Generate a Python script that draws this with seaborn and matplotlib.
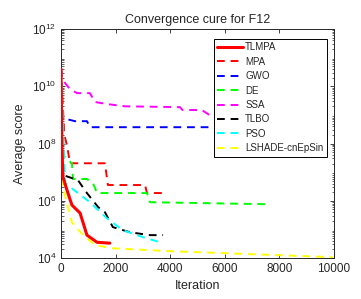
import seaborn as sns
import matplotlib.pyplot as plt
import pandas as pd
import numpy as np

# Convergence curves (iteration, log10 of average score)
tlmpa_it = [0, 30, 70, 220, 400, 700, 950, 1320, 1790]
tlmpa_lg = [10.6, 8.0, 6.83, 6.37, 5.85, 5.57, 4.8, 4.55, 4.52]

mpa_it = [0, 120, 220, 330, 1610, 1720, 3080, 3150, 3700]
mpa_lg = [10.6, 8.3, 7.94, 7.31, 7.31, 6.55, 6.55, 6.27, 6.27]

gwo_it = [0, 40, 220, 510, 950, 1060, 5600]
gwo_lg = [10.6, 8.95, 8.85, 8.78, 8.78, 8.57, 8.57]

de_it = [0, 60, 400, 440, 950, 1170, 1320, 3150, 3260, 7540]
de_lg = [10.6, 7.6, 7.31, 6.76, 6.76, 6.62, 6.27, 6.27, 5.95, 5.88]

ssa_it = [0, 40, 150, 330, 590, 1060, 1245, 1680, 2340, 4360, 4450, 5160, 5530, 5600]
ssa_lg = [10.6, 10.3, 10.11, 9.9, 9.76, 9.76, 9.45, 9.38, 9.3, 9.27, 9.17, 9.17, 8.94, 8.94]

tlbo_it = [0, 70, 620, 950, 1360, 1610, 1900, 2530, 3260, 3740]
tlbo_lg = [10.6, 6.9, 6.72, 6.27, 5.78, 5.6, 5.08, 4.9, 4.8, 4.8]

pso_it = [0, 150, 620, 1060, 1680, 2270, 3000, 3740]
pso_lg = [10.6, 6.62, 6.27, 5.95, 5.39, 4.97, 4.73, 4.52]

lsh_it = [0, 70, 400, 810, 1250, 1900, 3990, 9960]
lsh_lg = [10.6, 6.48, 5.25, 4.8, 4.45, 4.34, 4.24, 4.03]

names = ["TLMPA", "MPA", "GWO", "DE", "SSA", "TLBO", "PSO", "LSHADE-cnEpSin"]
iters = [tlmpa_it, mpa_it, gwo_it, de_it, ssa_it, tlbo_it, pso_it, lsh_it]
logs = [tlmpa_lg, mpa_lg, gwo_lg, de_lg, ssa_lg, tlbo_lg, pso_lg, lsh_lg]
colors = ["#ff0000", "#ff0000", "#0000ff", "#00ff00", "#ff00ff", "#000000", "#00ffff", "#ffff00"]

sns.set_style("ticks")
plt.rcParams["font.family"] = ["Liberation Sans", "DejaVu Sans"]

fig = plt.figure(figsize=(3.61, 2.99), dpi=100)
ax = fig.add_axes([0.169, 0.137, 0.756, 0.766])

for name, it, lg, c in zip(names, iters, logs, colors):
    df = pd.DataFrame({"Iteration": it, "score": 10 ** np.array(lg)})
    solid = name == "TLMPA"
    sns.lineplot(data=df, x="Iteration", y="score", ax=ax, color=c,
                 linewidth=2.2 if solid else 1.4,
                 linestyle="-" if solid else (0, (4, 3)),
                 label=name, estimator=None, sort=False, zorder=3 if solid else 2)

ax.set_yscale("log")
ax.set_xlim(0, 10000)
ax.set_ylim(1e4, 1e12)
ax.set_xticks([0, 2000, 4000, 6000, 8000, 10000])
ax.set_yticks([1e4, 1e6, 1e8, 1e10, 1e12])
ax.tick_params(direction="in", top=True, right=True, labelsize=8.5, length=3, width=0.6)
ax.tick_params(which="minor", direction="in", left=True, right=True, length=1.8, width=0.5)
for s in ax.spines.values():
    s.set_linewidth(0.7)
ax.set_xlabel("Iteration", fontsize=9)
ax.set_ylabel("Average score", fontsize=9)
ax.set_title("Convergence cure for F12", fontsize=9, pad=4)

leg = ax.legend(loc="upper right", bbox_to_anchor=(0.974, 0.956), borderaxespad=0,
                fontsize=7, frameon=True, fancybox=False, edgecolor="black",
                framealpha=1, handlelength=2.7, handletextpad=0.2,
                labelspacing=0.45, borderpad=0.35)
leg.get_frame().set_linewidth(0.7)

fig.savefig("out.png", dpi=100)
